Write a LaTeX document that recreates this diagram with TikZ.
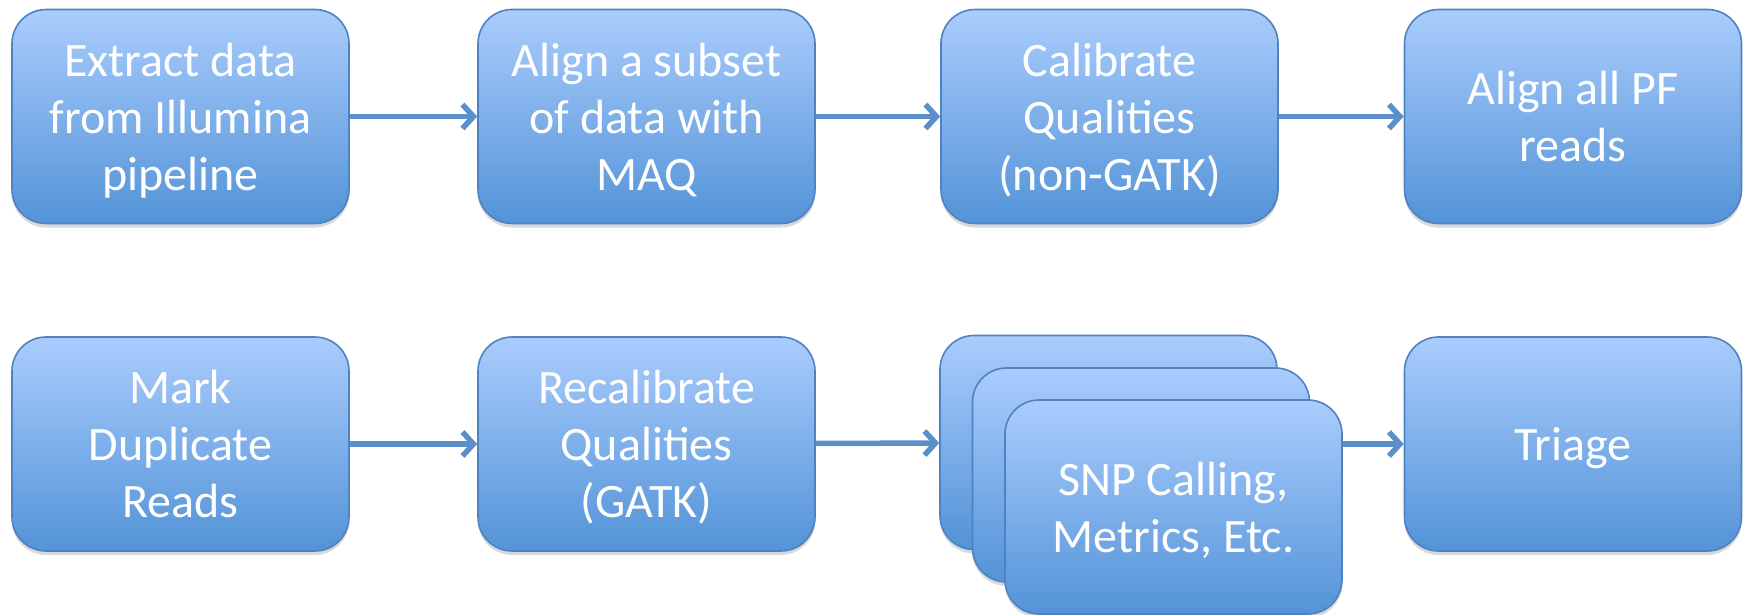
\documentclass[tikz,border=0pt]{standalone}
\usepackage{fontspec}
\setmainfont{Carlito}
\usetikzlibrary{arrows.meta,shadows}
\definecolor{boxtop}{HTML}{AACCFD}
\definecolor{boxbot}{HTML}{5393D7}
\definecolor{boxline}{HTML}{4E82C0}
\definecolor{flowline}{HTML}{5B8FCA}
\begin{document}
\begin{tikzpicture}[x=1pt,y=-1pt,
  stepbox/.style={draw=boxline, line width=1.6pt, rounded corners=34pt,
    top color=boxtop, bottom color=boxbot, minimum width=337pt, minimum height=214pt,
    text=white, align=center, font=\fontsize{48}{57}\selectfont, text depth=-8pt,
    drop shadow={shadow xshift=0pt, shadow yshift=-4pt, opacity=0.25, fill=black!60}},
  flow/.style={-{Straight Barb[length=11pt,width=24pt]}, line width=5.5pt, draw=flowline}]
\useasboundingbox (0,0) rectangle (1743,614);
\node[stepbox] (extract) at (180.5,116.5) {Extract data\\from Illumina\\pipeline};
\node[stepbox] (subset) at (646.5,116.5) {Align a subset\\of data with\\MAQ};
\node[stepbox] (calib) at (1109.5,116.5) {Calibrate\\Qualities\\(non-GATK)};
\node[stepbox] (alignall) at (1573,116.5) {Align all PF\\reads};
\node[stepbox] (markdup) at (180.5,444) {Mark\\Duplicate\\Reads};
\node[stepbox] (recalib) at (646.5,444) {Recalibrate\\Qualities\\(GATK)};
\node[stepbox] (snpback) at (1108.5,442.5) {};
\node[stepbox] (snpmid) at (1141,475) {};
\node[stepbox] (snp) at (1173.5,507) {SNP Calling,\\Metrics, Etc.};
\node[stepbox] (triage) at (1573,444) {Triage};
\draw[flow] (extract) -- (subset);
\draw[flow] (subset) -- (calib);
\draw[flow] (calib) -- (alignall);
\draw[flow] (markdup) -- (recalib);
\draw[flow] (recalib) -- (snpback);
\draw[flow] (snp.east |- triage) -- (triage);
\end{tikzpicture}
\end{document}
